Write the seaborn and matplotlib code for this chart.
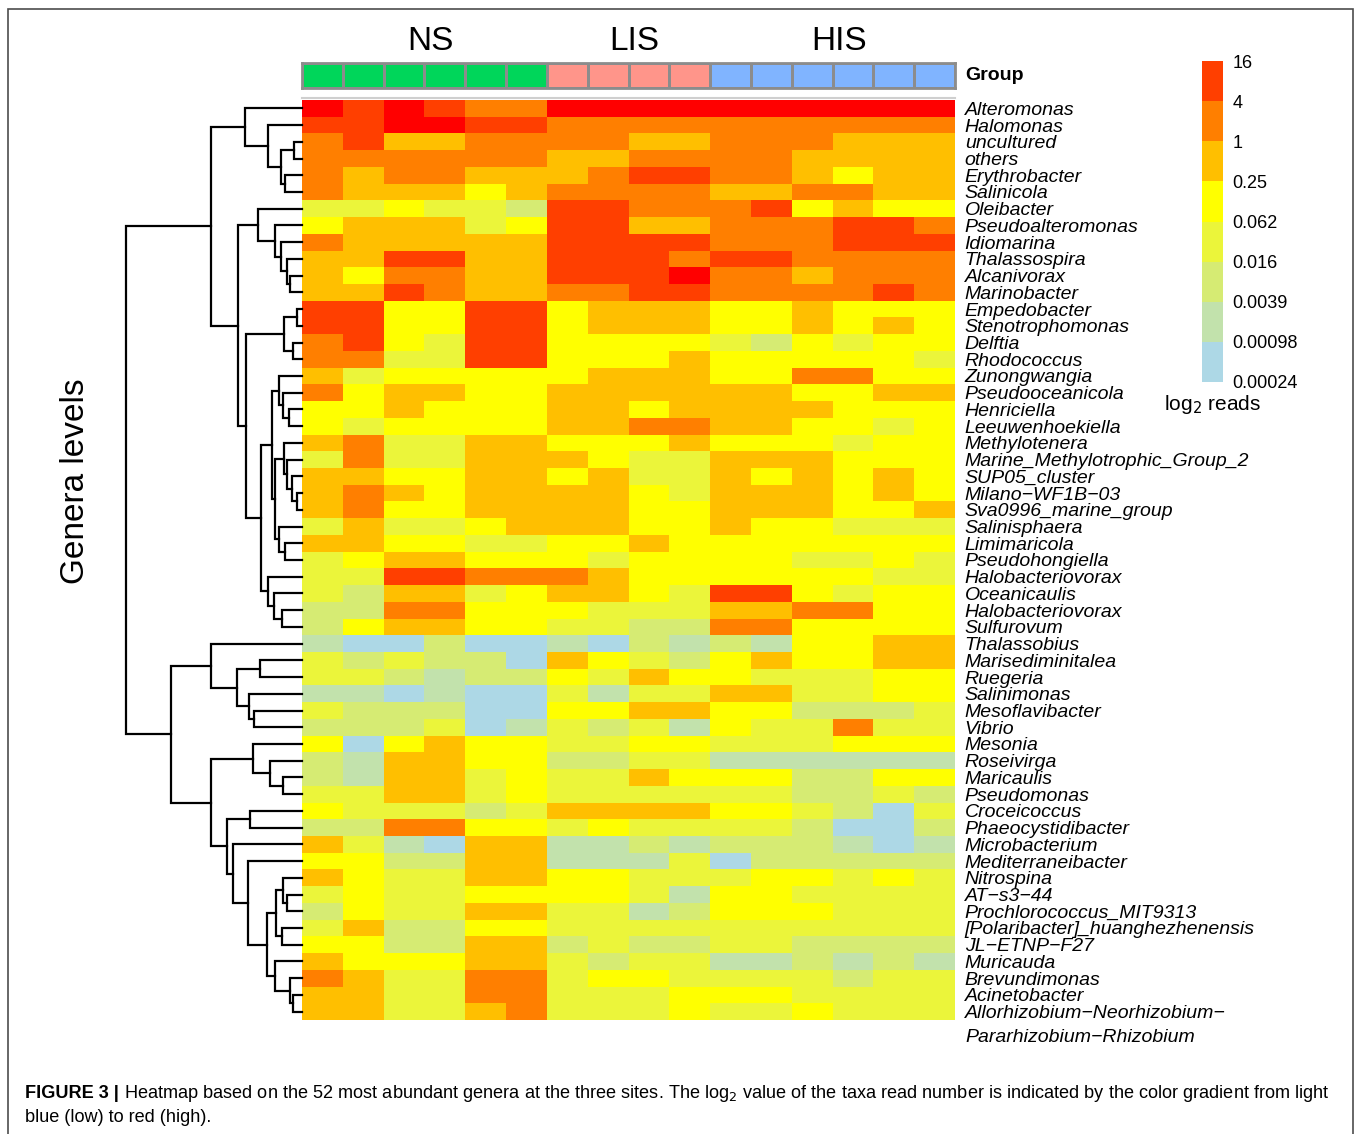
import numpy as np
import pandas as pd
import matplotlib
matplotlib.use("Agg")
import matplotlib.pyplot as plt
import seaborn as sns
from matplotlib import colorbar
from matplotlib.colors import ListedColormap, BoundaryNorm
from matplotlib.patches import Rectangle

plt.rcParams["font.family"] = ["Liberation Sans", "DejaVu Sans"]

W, H = 1358, 1134

# ── Data ──────────────────────────────────────────────────────────────────────

genera = [
    "Alteromonas", "Halomonas", "uncultured", "others", "Erythrobacter",
    "Salinicola", "Oleibacter", "Pseudoalteromonas", "Idiomarina",
    "Thalassospira", "Alcanivorax", "Marinobacter", "Empedobacter",
    "Stenotrophomonas", "Delftia", "Rhodococcus", "Zunongwangia",
    "Pseudooceanicola", "Henriciella", "Leeuwenhoekiella", "Methylotenera",
    "Marine_Methylotrophic_Group_2", "SUP05_cluster", "Milano−WF1B−03",
    "Sva0996_marine_group", "Salinisphaera", "Limimaricola", "Pseudohongiella",
    "Halobacteriovorax", "Oceanicaulis", "Halobacteriovorax", "Sulfurovum",
    "Thalassobius", "Marisediminitalea", "Ruegeria", "Salinimonas",
    "Mesoflavibacter", "Vibrio", "Mesonia", "Roseivirga", "Maricaulis",
    "Pseudomonas", "Croceicoccus", "Phaeocystidibacter", "Microbacterium",
    "Mediterraneibacter", "Nitrospina", "AT−s3−44", "Prochlorococcus_MIT9313",
    "[Polaribacter]_huanghezhenensis", "JL−ETNP−F27", "Muricauda",
    "Brevundimonas", "Acinetobacter", "Allorhizobium−Neorhizobium−",
]
last_label_tail = "Pararhizobium−Rhizobium"

group_names = ["NS", "LIS", "HIS"]
group_sizes = [6, 4, 6]
group_colors = ["#00D65A", "#FF958A", "#80B4FF"]

# colour key breaks (log2 scale: 2^-12 ... 2^4)
breaks_log2 = [-12, -10, -8, -6, -4, -2, 0, 2, 4]
bin_colors = ["#ADD8E6", "#C2E2AC", "#D6EB73", "#EBF53A", "#FFFF00",
              "#FFBF00", "#FF7F00", "#FF3F00", "#FF0000"]

# colour bin of each cell, 0 = light blue ... 8 = red (above 16);  NS | LIS | HIS
cell_bins = [
    "878766 8888 888888", "778877 6666 666666", "675566 6655 666555",
    "666666 5566 665555", "656655 5677 665455", "655545 6666 556655",
    "334332 7766 674544", "455534 7755 666776", "655555 7777 666777",
    "557755 7776 776666", "546655 7778 665666", "557655 6677 666676",
    "774477 4555 445444", "774477 4555 445454", "674377 4444 324344",
    "663377 4445 444443", "534444 4555 446644", "645544 5555 554455",
    "445444 5545 555444", "434444 5566 554434", "563355 4445 444344",
    "363355 5433 555444", "554455 4533 545454", "565455 5543 555454",
    "564455 5544 555445", "353345 5544 544333", "554433 4454 444444",
    "345544 4344 443343", "337766 6544 444433", "325534 5543 774344",
    "226644 4333 556644", "245544 3322 664444", "100200 1021 214455",
    "323220 5432 454455", "332122 4354 433344", "110100 3133 553344",
    "322200 4455 442223", "222301 3231 433633", "404544 3344 333444",
    "215544 2233 111111", "215534 3354 442244", "335534 3333 332232",
    "433323 5555 443203", "226644 3433 332002", "531055 1121 222101",
    "442255 1113 022222", "543355 4433 344343", "343344 4431 443333",
    "243355 3312 444333", "352244 3333 333333", "442255 2322 332222",
    "544455 3233 112121", "653366 3443 333233", "553366 3334 443333",
    "553356 3334 334333",
]

# row dendrogram: (merge height, left, right), leaves are row numbers
row_tree = (525,
    (270,
        (170, 0, (102, 1, (62, (25, 2, 3), (52, 4, 5)))),
        (190,
            (132, 6, (82, 7, (62, 8, (45, 9, (35, 10, 11))))),
            (167,
                (55, (15, 12, 13), (27, 14, 15)),
                (122,
                    (90,
                        (70, 16, (58, 17, (40, 18, 19))),
                        (82,
                            (55, 20, (45, 21, (30, 22, (15, 23, 24)))),
                            (70, 25, (50, 26, 27)))),
                    (102, 28, (85, 29, (60, 30, 31))))))),
    (390,
        (270, 32, (195, (125, 33, 34), (157, 35, (142, 36, 37)))),
        (270,
            (145, 38, (95, 39, (57, 40, 41))),
            (225,
                (155, 42, 43),
                (207, 44, (162, 45, (105,
                    (77, (58, 46, (45, 47, 48)), (60, 49, 50)),
                    (82, 51, (35, 52, (27, 53, 54))))))))))

bins = np.array([[int(c) for c in s.replace(" ", "")] for s in cell_bins])
heat = pd.DataFrame(breaks_log2[0] + 1 + 2 * bins)   # mid value of each log2 bin
n_rows, n_cols = heat.shape


def px_axes(fig, x0, y0, x1, y1):
    """Axes placed by pixel box (origin top-left)."""
    return fig.add_axes([x0 / W, 1 - y1 / H, (x1 - x0) / W, (y1 - y0) / H])


fig = plt.figure(figsize=(W / 100, H / 100), dpi=100)

# ── Heatmap ───────────────────────────────────────────────────────────────────
ax = px_axes(fig, 302, 100, 955, 1020)
sns.heatmap(heat, ax=ax, cmap=ListedColormap(bin_colors), vmin=-12, vmax=6,
            cbar=False, xticklabels=False, yticklabels=False)
ax.set_yticks(np.arange(n_rows) + 0.5)
ax.set_yticklabels(genera, rotation=0, fontsize=14, fontstyle="italic")
ax.yaxis.tick_right()
ax.tick_params(axis="y", length=0, pad=7)
ax.set_xlabel(""); ax.set_ylabel("")
ax.axhline(-0.12, color="#cfcfcf", lw=1.5, clip_on=False)
ax.annotate(last_label_tail, xy=(1, n_rows - 0.5), xycoords=("axes fraction", "data"),
            xytext=(10, -26), textcoords="offset pixels", va="center",
            fontsize=14, fontstyle="italic")

# ── Group annotation bar ──────────────────────────────────────────────────────
gax = px_axes(fig, 302, 63, 955, 88)
codes = np.repeat(np.arange(len(group_names)), group_sizes)[None, :]
sns.heatmap(codes, ax=gax, cmap=ListedColormap(group_colors), vmin=-0.5,
            vmax=len(group_names) - 0.5, cbar=False, linewidths=2,
            linecolor="#8C8C8C", xticklabels=False, yticklabels=False)
for s in gax.spines.values():
    s.set_visible(True); s.set_color("#8C8C8C"); s.set_linewidth(2)
gax.text(1 + 10 / 653, 0.5, "Group", transform=gax.transAxes, va="center",
         fontsize=14, fontweight="bold")
starts = np.concatenate([[0], np.cumsum(group_sizes)[:-1]])
for name, st, sz in zip(group_names, starts, group_sizes):
    gax.text(st + sz / 2 + 0.15, -0.85, name, ha="center", va="center", fontsize=24)

# ── Row dendrogram ────────────────────────────────────────────────────────────
dax = px_axes(fig, 126, 100, 302, 1020)
dax.set_xlim(row_tree[0], 0)
dax.set_ylim(n_rows, 0)
dax.axis("off")


def draw_tree(node):
    if isinstance(node, int):
        return node + 0.5, 0
    h, left, right = node
    yl, hl = draw_tree(left)
    yr, hr = draw_tree(right)
    dax.plot([hl, h, h, hr], [yl, yl, yr, yr], color="black", lw=1.6,
             clip_on=False, solid_joinstyle="miter")
    return (yl + yr) / 2, h


draw_tree(row_tree)
fig.text(75 / W, 1 - 481 / H, "Genera levels", rotation=90, ha="center",
         va="center", fontsize=24)

# ── Colour key ────────────────────────────────────────────────────────────────
cax = px_axes(fig, 1202, 61, 1223, 382)
cb = colorbar.ColorbarBase(cax, cmap=ListedColormap(bin_colors[:-1]),
                           norm=BoundaryNorm(breaks_log2, len(breaks_log2) - 1),
                           ticks=breaks_log2)
cb.outline.set_visible(False)
cax.set_yticklabels([f"{2.0 ** b:.2g}" for b in breaks_log2])
cax.tick_params(length=0, labelsize=13, pad=7)
fig.text(1213 / W, 1 - 404 / H, "log$_2$ reads", ha="center", va="center", fontsize=15)

# ── Frame and caption ─────────────────────────────────────────────────────────
fig.add_artist(Rectangle((8 / W, -0.01), (1353 - 8) / W, 1 - 9 / H + 0.01,
                         transform=fig.transFigure, fill=False,
                         edgecolor="#4d4d4d", lw=1.2))
cap_size = 13.1
head = fig.text(25 / W, 1 - 1093 / H, "FIGURE 3 |", fontweight="bold",
                fontsize=cap_size, va="center")
fig.canvas.draw()
x_next = head.get_window_extent().x1 + 5
fig.text(x_next / W, 1 - 1093 / H,
         "Heatmap based on the 52 most abundant genera at the three sites. "
         "The log$_2$ value of the taxa read number is indicated by the color "
         "gradient from light", fontsize=cap_size, va="center")
fig.text(25 / W, 1 - 1117 / H, "blue (low) to red (high).", fontsize=cap_size, va="center")

fig.savefig("out.png", dpi=100)
